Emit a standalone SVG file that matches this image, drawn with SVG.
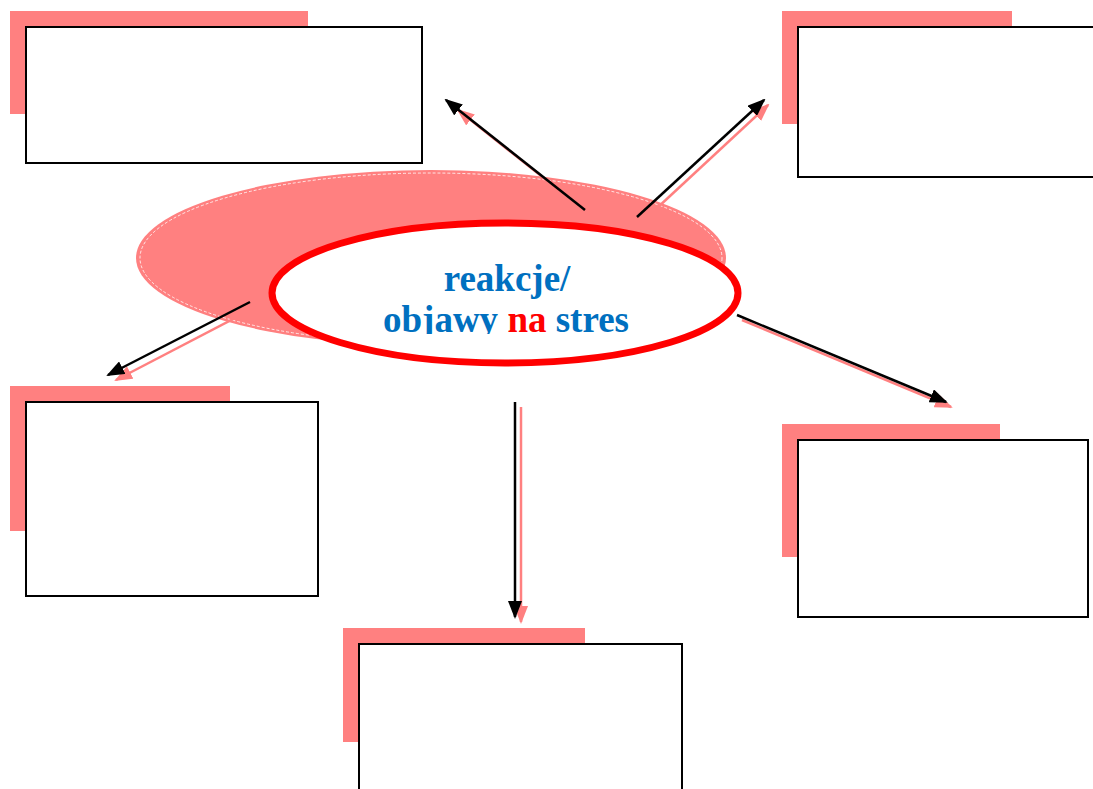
<svg xmlns="http://www.w3.org/2000/svg" width="1093" height="789" viewBox="0 0 1093 789">
  <style>
    .shadow { fill: #FF8080; stroke: none; }
    .box { fill: #FFFFFF; stroke: #000000; stroke-width: 2; }
    .ln { stroke: #000000; stroke-width: 2.5; fill: none; }
    .lnp { stroke: #FF8080; stroke-width: 2.5; fill: none; }
    .t { font-family: "Liberation Serif", "Times New Roman", serif; font-weight: bold; font-size: 37px; fill: #0070C0; text-anchor: middle; }
  </style>
  <defs>
    <marker id="ah" markerWidth="18" markerHeight="14" refX="16" refY="7" orient="auto" markerUnits="userSpaceOnUse">
      <path d="M0,0 L18,7 L0,14 z" fill="#000000"/>
    </marker>
    <marker id="ahp" markerWidth="18" markerHeight="14" refX="16" refY="7" orient="auto" markerUnits="userSpaceOnUse">
      <path d="M0,0 L18,7 L0,14 z" fill="#FF8080"/>
    </marker>
    <clipPath id="tc"><rect x="300" y="240" width="420" height="94"/></clipPath>
  </defs>
  <rect width="1093" height="789" fill="#FFFFFF"/>

  <g id="center">
    <ellipse cx="431" cy="258" rx="295" ry="88" fill="#FF8080"/>
    <ellipse cx="431" cy="258" rx="291" ry="85" fill="none" stroke="#FFFFFF" stroke-width="0.8" stroke-dasharray="3 2"/>
    <ellipse cx="505" cy="293" rx="233" ry="70" fill="#FFFFFF" stroke="#FF0000" stroke-width="7"/>
    <g clip-path="url(#tc)">
      <text class="t" x="507" y="291">reakcje/</text>
      <text class="t" x="506" y="332">objawy <tspan fill="#FF0000">na</tspan> stres</text>
    </g>
  </g>

  <g id="connectors">
    <line class="lnp" x1="589" y1="214" x2="458" y2="110" marker-end="url(#ahp)"/>
    <line class="ln" x1="585" y1="210" x2="446" y2="100" marker-end="url(#ah)"/>
    <line class="lnp" x1="642" y1="222" x2="768" y2="105" marker-end="url(#ahp)"/>
    <line class="ln" x1="637" y1="217" x2="764" y2="100" marker-end="url(#ah)"/>
    <line class="lnp" x1="256" y1="307" x2="116" y2="380" marker-end="url(#ahp)"/>
    <line class="ln" x1="250" y1="302" x2="108" y2="375" marker-end="url(#ah)"/>
    <line class="lnp" x1="742" y1="320" x2="951" y2="407" marker-end="url(#ahp)"/>
    <line class="ln" x1="737" y1="315" x2="946" y2="402" marker-end="url(#ah)"/>
    <line class="lnp" x1="521" y1="407" x2="521" y2="622" marker-end="url(#ahp)"/>
    <line class="ln" x1="515" y1="402" x2="515" y2="617" marker-end="url(#ah)"/>
  </g>

  <g id="box-top-left">
    <rect class="shadow" x="10" y="11" width="298" height="103"/>
    <rect class="box" x="26" y="27" width="396" height="136"/>
  </g>
  <g id="box-top-right">
    <rect class="shadow" x="782" y="11" width="230" height="113"/>
    <rect class="box" x="798" y="27" width="300" height="150"/>
  </g>
  <g id="box-left">
    <rect class="shadow" x="10" y="386" width="220" height="145"/>
    <rect class="box" x="26" y="402" width="292" height="194"/>
  </g>
  <g id="box-right">
    <rect class="shadow" x="782" y="424" width="218" height="133"/>
    <rect class="box" x="798" y="440" width="290" height="177"/>
  </g>
  <g id="box-bottom">
    <rect class="shadow" x="343" y="628" width="242" height="114"/>
    <rect class="box" x="359" y="644" width="323" height="150"/>
  </g>
</svg>
